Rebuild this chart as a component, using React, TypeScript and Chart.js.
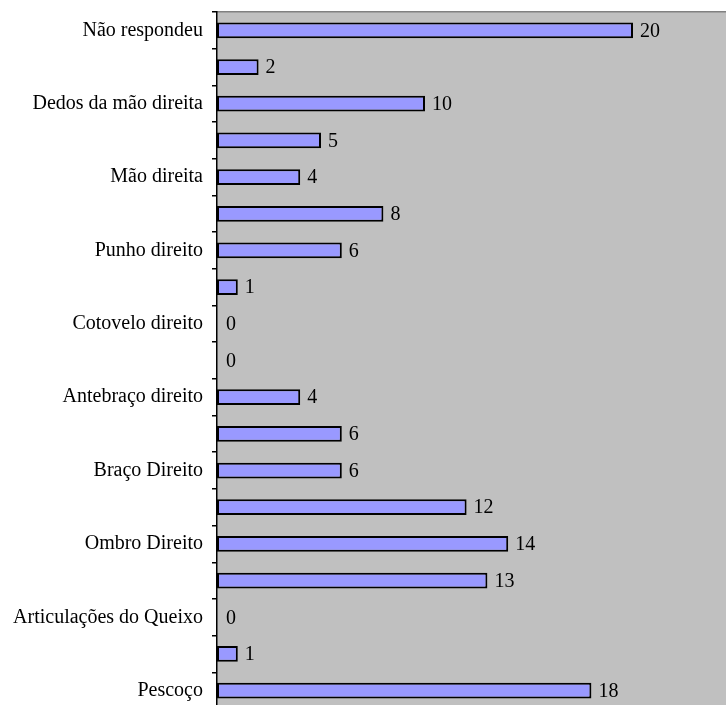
import React, { useEffect, useRef } from "react";
import { Chart, registerables } from "chart.js";

Chart.register(...registerables);

// Categories top to bottom (only every other label is printed in the reference)
const categories: string[] = [
  "Não respondeu",
  "",
  "Dedos da mão direita",
  "",
  "Mão direita",
  "",
  "Punho direito",
  "",
  "Cotovelo direito",
  "",
  "Antebraço direito",
  "",
  "Braço Direito",
  "",
  "Ombro Direito",
  "",
  "Articulações do Queixo",
  "",
  "Pescoço",
];

const values: number[] = [20, 2, 10, 5, 4, 8, 6, 1, 0, 0, 4, 6, 6, 12, 14, 13, 0, 1, 18];

const xMin = 0;
const xMax = 25;

const FONT = "'Liberation Serif', 'Times New Roman', serif";

export default function App() {
  const ref = useRef<HTMLCanvasElement | null>(null);

  useEffect(() => {
    if (!ref.current) return;

    const bgPlugin = {
      id: "plotBg",
      beforeDraw(chart: any) {
        const { ctx, chartArea } = chart;
        ctx.save();
        ctx.fillStyle = "#C0C0C0";
        ctx.fillRect(chartArea.left, chartArea.top, chartArea.right - chartArea.left, chartArea.bottom - chartArea.top);
        ctx.restore();
      },
    };

    const valuePlugin = {
      id: "valueLabels",
      afterDatasetsDraw(chart: any) {
        const { ctx } = chart;
        const meta = chart.getDatasetMeta(0);
        ctx.save();
        ctx.fillStyle = "#000";
        ctx.font = `20px ${FONT}`;
        ctx.textAlign = "left";
        ctx.textBaseline = "middle";
        meta.data.forEach((el: any, i: number) => {
          const v = values[i];
          ctx.fillText(String(v), el.x + (v === 0 ? 9 : 7), el.y + 1);
        });
        ctx.restore();
      },
    };

    const chart = new Chart(ref.current, {
      type: "bar",
      data: {
        labels: categories,
        datasets: [
          {
            data: values,
            backgroundColor: "#9999FF",
            borderColor: "#000000",
            borderWidth: 2,
            borderSkipped: false,
            barPercentage: 0.43,
            categoryPercentage: 1,
          },
        ],
      },
      options: {
        indexAxis: "y",
        animation: false,
        responsive: false,
        devicePixelRatio: 1,
        layout: { padding: { top: 12, bottom: 6, left: 0, right: 0 } },
        plugins: {
          legend: { display: false },
          tooltip: { enabled: false },
          title: { display: false },
        },
        scales: {
          x: {
            position: "top",
            min: xMin,
            max: xMax,
            ticks: { display: false },
            grid: { display: false, drawTicks: false },
            border: { display: true, color: "#808080", width: 1.5 },
            afterFit: (scale: any) => {
              scale.height = 0;
              scale.paddingLeft = 0;
              scale.paddingRight = 0;
            },
          },
          y: {
            ticks: {
              autoSkip: false,
              color: "#000",
              padding: 9,
              font: { family: FONT, size: 20 },
            },
            grid: {
              display: true,
              drawOnChartArea: false,
              drawTicks: true,
              tickLength: 5,
              color: "#000",
              lineWidth: 1.5,
              offset: true,
            },
            border: { display: true, color: "#000", width: 1.5 },
            afterFit: (scale: any) => {
              scale.width = 217;
              scale.paddingTop = 0;
              scale.paddingBottom = 0;
            },
          },
        },
      },
      plugins: [bgPlugin, valuePlugin],
    });

    return () => chart.destroy();
  }, []);

  return (
    <div style={{ position: "fixed", left: 0, top: 0, width: 737, height: 715, background: "#fff" }}>
      <canvas ref={ref} width={737} height={715} style={{ width: 737, height: 715, display: "block" }} />
    </div>
  );
}
